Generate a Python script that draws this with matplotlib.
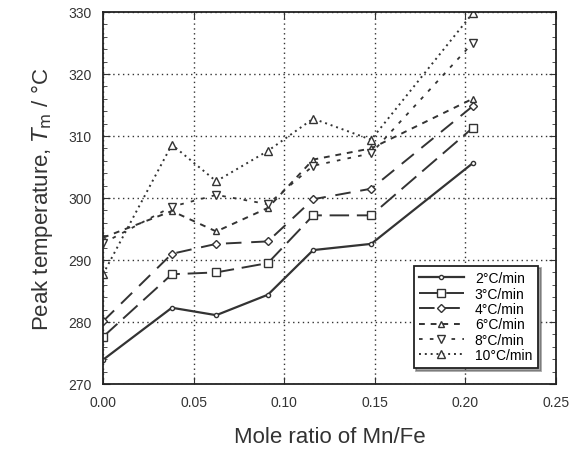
import matplotlib
matplotlib.use('Agg')
import matplotlib.pyplot as plt
from matplotlib.ticker import MultipleLocator

plt.rcParams['font.family'] = ['Liberation Sans', 'DejaVu Sans']

# Mn/Fe mole ratio
x = [0.0, 0.038, 0.0625, 0.091, 0.116, 0.148, 0.204]

t2 = [273.9, 282.3, 281.1, 284.4, 291.6, 292.6, 305.6]
t3 = [277.6, 287.7, 288.0, 289.5, 297.2, 297.2, 311.3]
t4 = [280.1, 291.0, 292.6, 293.0, 299.8, 301.5, 314.8]
t6 = [293.6, 297.9, 294.6, 298.4, 306.2, 308.0, 316.0]
t8 = [292.7, 298.6, 300.5, 299.0, 305.2, 307.2, 325.0]
t10 = [287.7, 308.6, 302.7, 307.6, 312.8, 309.4, 329.8]

labels = ['2\u00b0C/min', '3\u00b0C/min', '4\u00b0C/min', '6\u00b0C/min', '8\u00b0C/min', '10\u00b0C/min']

fig = plt.figure(figsize=(5.77, 4.52), dpi=100)
ax = fig.add_axes([103/577, 1-385/452, 453/577, 372/452])

ax.plot(x, t2, '-', marker='o', ms=3, color='#333', lw=1.6, mfc='white', label=labels[0])
ax.plot(x, t3, color='#333', lw=1.4, dashes=(10, 4), marker='s', ms=6, mfc='white', label=labels[1])
ax.plot(x, t4, color='#333', lw=1.4, dashes=(8, 5), marker='D', ms=4.5, mfc='white', label=labels[2])
ax.plot(x, t6, color='#333', lw=1.4, dashes=(3, 3), marker='^', ms=5, mfc='white', label=labels[3])
ax.plot(x, t8, color='#333', lw=1.3, dashes=(2, 4), marker='v', ms=6, mfc='white', label=labels[4])
ax.plot(x, t10, color='#333', lw=1.4, dashes=(1, 2), marker='^', ms=6, mfc='white', label=labels[5])

ax.set_xlim(0, 0.25)
ax.set_ylim(270, 330)
ax.xaxis.set_major_locator(MultipleLocator(0.05))
ax.yaxis.set_major_locator(MultipleLocator(10))
ax.yaxis.set_minor_locator(MultipleLocator(2))
ax.set_xticklabels(['%.2f' % v for v in ax.get_xticks()])
ax.tick_params(which='both', direction='in', top=True, right=True, labelsize=10, colors='#333')
ax.tick_params(which='minor', length=3)
ax.tick_params(which='major', length=5, pad=8)
ax.grid(True, linestyle=(0, (1, 2.5)), color='#333', lw=1.0)
for s in ax.spines.values():
    s.set_color('#222')
    s.set_linewidth(1.3)

ax.set_xlabel('Mole ratio of Mn/Fe', fontsize=16, color='#333', labelpad=12)
ax.set_ylabel('Peak temperature, $T_\\mathrm{m}$ / \u00b0C', fontsize=16, color='#333', labelpad=10)

leg = ax.legend(loc='lower right', bbox_to_anchor=(0.975, 0.025), fancybox=False, shadow=True,
                fontsize=10, handlelength=3.2, labelspacing=0.1, borderpad=0.4, framealpha=1)
leg.get_frame().set_edgecolor('#222')
leg.get_frame().set_linewidth(1.3)

fig.savefig('out.png', dpi=100)
